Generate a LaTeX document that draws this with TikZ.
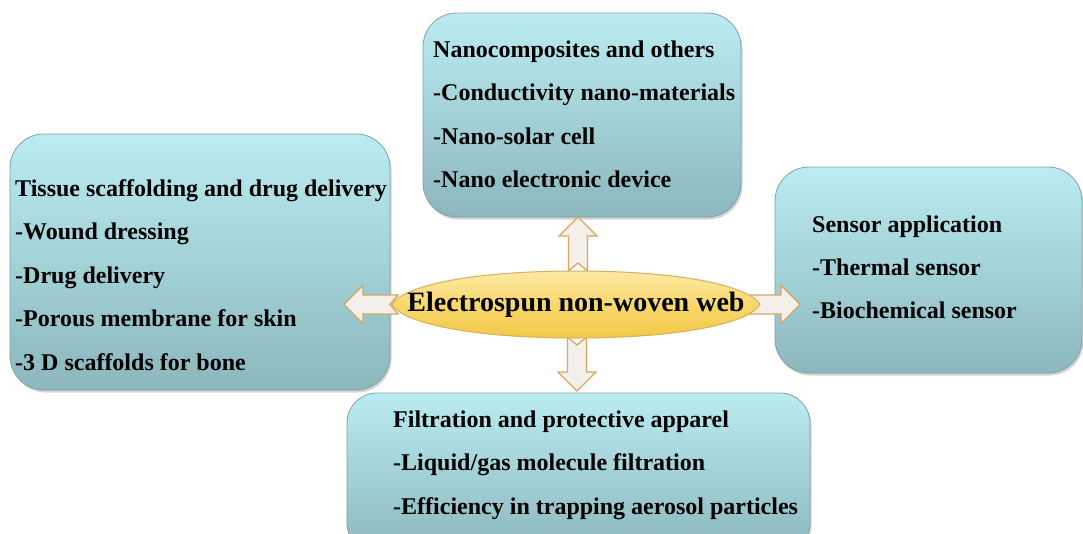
\documentclass[tikz,border=0pt]{standalone}
\usepackage{fontspec}
\setmainfont{Liberation Serif}
\usetikzlibrary{shadows}
\definecolor{boxtop}{HTML}{BAECF1}
\definecolor{boxbot}{HTML}{8BB7BD}
\definecolor{boxline}{HTML}{7FA2A8}
\definecolor{elltop}{HTML}{FBE9A6}
\definecolor{ellmid}{HTML}{F8D86C}
\definecolor{ellbot}{HTML}{F4C848}
\definecolor{ellline}{HTML}{D6B05A}
\definecolor{arrline}{HTML}{D9A65C}
\definecolor{arrfill}{HTML}{F3F0EC}
\tikzset{
  appbox/.style={rectangle, rounded corners=34pt, draw=boxline, line width=0.8pt,
    top color=boxtop, bottom color=boxbot, inner sep=0pt, outer sep=0pt, anchor=north west,
    drop shadow={shadow xshift=1.5pt, shadow yshift=-2.5pt, opacity=0.35, fill=gray}},
  txt/.style={anchor=base west, inner sep=0pt, font=\fontsize{24}{28}\selectfont\bfseries},
  centreshape/.style={draw=ellline, line width=1pt, top color=elltop, bottom color=ellbot,
    middle color=ellmid},
  centretxt/.style={inner sep=0pt, font=\fontsize{28}{30}\selectfont\bfseries},
  barrow/.pic={\draw[draw=arrline, line width=1.3pt, fill=arrfill, line join=miter]
    (0,-9.5) -- (35,-9.5) -- (35,-19) -- (54,0) -- (35,19) -- (35,9.5) -- (0,9.5) -- (8,0) -- cycle;}
}
\begin{document}
\begin{tikzpicture}[x=1pt,y=-1pt]
\useasboundingbox (0,0) rectangle (1083,533);
\fill[white] (0,0) rectangle (1083,533);

% boxes
\node[appbox, minimum width=380pt, minimum height=256pt] (tissue) at (10,134) {};
\node[appbox, minimum width=318pt, minimum height=204pt] (nano) at (423,13) {};
\node[appbox, minimum width=307pt, minimum height=206pt] (sensor) at (775,167) {};
\node[appbox, minimum width=463pt, minimum height=160pt, rounded corners=30pt] (filt) at (347,393) {};

% texts
\node[txt] (t1) at (15,196) {Tissue scaffolding and drug delivery};
\node[txt] (t2) at (15,239.5) {-Wound dressing};
\node[txt] (t3) at (15,283) {-Drug delivery};
\node[txt] (t4) at (15,326.5) {-Porous membrane for skin};
\node[txt] (t5) at (15,370) {-3 D scaffolds for bone};

\node[txt] (n1) at (433,57) {Nanocomposites and others};
\node[txt] (n2) at (433,100.5) {-Conductivity nano-materials};
\node[txt] (n3) at (433,144) {-Nano-solar cell};
\node[txt] (n4) at (433,187.5) {-Nano electronic device};

\node[txt] (s1) at (812,232) {Sensor application};
\node[txt] (s2) at (812,275) {-Thermal sensor};
\node[txt] (s3) at (812,318) {-Biochemical sensor};

\node[txt] (f1) at (393,427) {Filtration and protective apparel};
\node[txt] (f2) at (393,470.5) {-Liquid/gas molecule filtration};
\node[txt] (f3) at (393,514) {-Efficiency in trapping aerosol particles};

% centre
\coordinate (c) at (576,304.5);
\path pic[rotate=90] at (578,271) {barrow};
\path pic[rotate=-90] at (577,337) {barrow};
\path pic[rotate=180] at (398,304.5) {barrow};
\path pic at (746,304.5) {barrow};
\path[centreshape] (392,304.5) .. controls (402,287) and (466,271) .. (576,271)
  .. controls (686,271) and (750,287) .. (760,304.5)
  .. controls (750,322) and (686,338) .. (576,338)
  .. controls (466,338) and (402,322) .. (392,304.5) -- cycle;
\node[centretxt] (ell) at (c) {Electrospun non-woven web};
\end{tikzpicture}
\end{document}
